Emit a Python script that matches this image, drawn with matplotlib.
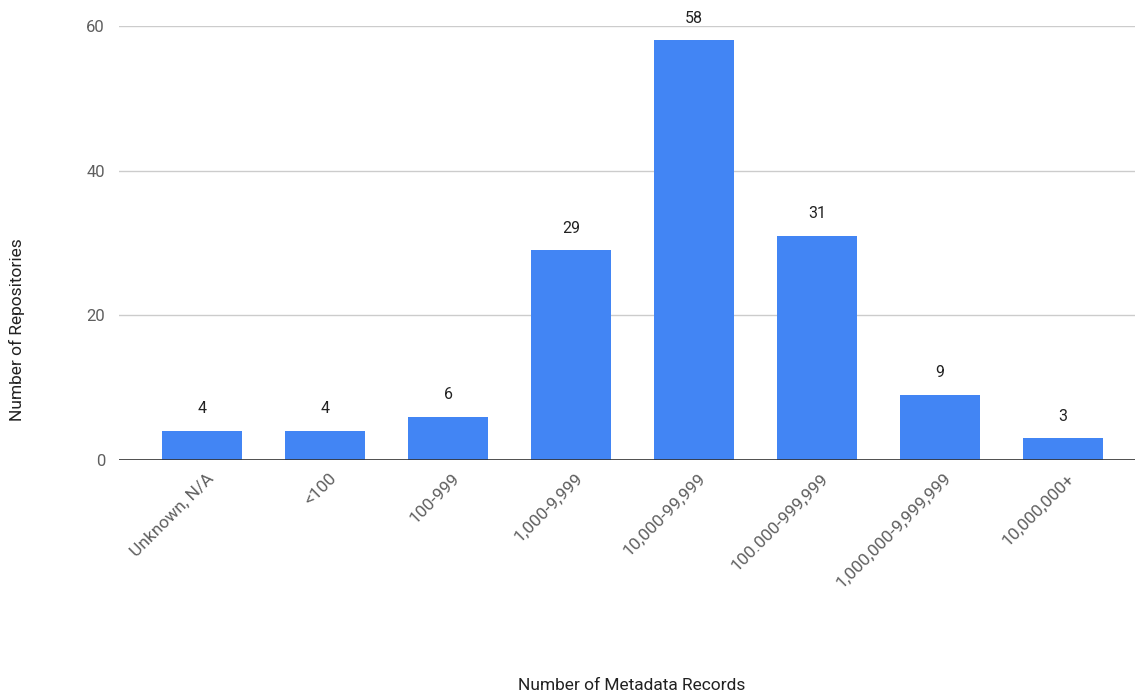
import matplotlib.pyplot as plt
import matplotlib.transforms as mtransforms

categories = ["Unknown, N/A", "<100", "100-999", "1,000-9,999", "10,000-99,999",
              "100.000-999,999", "1,000,000-9,999,999", "10,000,000+"]
repos = [4, 4, 6, 29, 58, 31, 9, 3]
yticks = [0, 20, 40, 60]

plt.rcParams['font.family'] = ['Roboto', 'DejaVu Sans']

fig = plt.figure(figsize=(11.35, 6.93), dpi=100)
ax = fig.add_axes([119 / 1135, (693 - 460) / 693, 1 - 119 / 1135, (460 - 26) / 693])

x = list(range(len(categories)))
ax.bar(x, repos, width=0.65, color="#4285F4", zorder=3)

# value labels above bars
for xi, v in zip(x, repos):
    ax.annotate(str(v), (xi, v), xytext=(0, 16), textcoords="offset points",
                ha="center", va="center", fontsize=11.5, color="#222222")

ax.set_xlim(-0.675, 7.585)
ax.set_ylim(0, 60)
ax.set_yticks(yticks)
ax.grid(axis="y", color="#cccccc", linewidth=1, zorder=0)
ax.axhline(0, color="#333333", linewidth=1.2, zorder=4)

for s in ax.spines.values():
    s.set_visible(False)

ax.tick_params(axis="both", length=0, labelcolor="#5f5f5f")
ax.tick_params(axis="y", pad=10, labelsize=12)
ax.set_xticks(x)
ax.set_xticklabels(categories, rotation=45, ha="right", va="center",
                   rotation_mode="anchor", fontsize=12.5)
offset = mtransforms.ScaledTranslation(9 / 100, -11 / 100, fig.dpi_scale_trans)
for lbl in ax.get_xticklabels():
    lbl.set_transform(lbl.get_transform() + offset)

fig.text(632 / 1135, 1 - 685 / 693, "Number of Metadata Records", ha="center",
         va="center", fontsize=12.5, color="#222222")
fig.text(17 / 1135, 1 - 330 / 693, "Number of Repositories", ha="center",
         va="center", rotation=90, fontsize=12.5, color="#222222")

fig.savefig("out.png", dpi=100)
